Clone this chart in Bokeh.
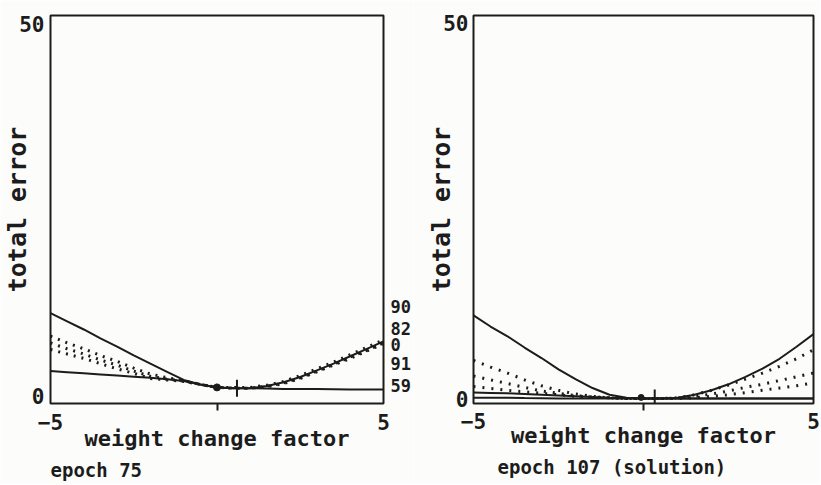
import math
from bokeh.plotting import figure
from bokeh.layouts import row
from bokeh.models import FixedTicker, LinearAxis, Title
from bokeh.embed import file_html
from bokeh.resources import INLINE

FONT = "DejaVu Sans Mono"
INK = "#1c1c1c"
PAPER = "#fcfcfa"

# ---- data -------------------------------------------------------------
weight_change = [-5, -4.5, -4, -3.5, -3, -2.5, -2, -1.5, -1, -0.5, 0,
                 0.5, 1, 1.5, 2, 2.5, 3, 3.5, 4, 4.5, 5]
x_tick_values = [-5, 5]
y_tick_values = [0, 50]

# epoch 75
e75_steep = [11.1, 10.0, 8.9, 7.7, 6.6, 5.4, 4.3, 3.2, 2.1, 1.5, 1.1,
             1.0, 1.0, 1.3, 1.8, 2.5, 3.4, 4.3, 5.3, 6.3, 7.3]
e75_low = [3.3, 3.15, 3.0, 2.85, 2.7, 2.55, 2.4, 2.2, 1.95, 1.5, 1.1,
           1.0, 1.0, 0.95, 0.9, 0.9, 0.9, 0.85, 0.8, 0.8, 0.8]
e75_dot_hi = [8.0, 7.1, 6.3, 5.4, 4.6, 3.7, 2.9, 2.4, 2.0, 1.5, 1.1,
              1.1, 1.1, 1.4, 1.9, 2.7, 3.6, 4.5, 5.5, 6.5, 7.5]
e75_dot_mid = [7.1, 6.3, 5.6, 4.8, 4.1, 3.3, 2.6, 2.2, 1.95, 1.5, 1.1,
               1.0, 1.0, 1.25, 1.7, 2.4, 3.3, 4.2, 5.2, 6.1, 7.1]
e75_dot_lo = [6.2, 5.6, 5.0, 4.3, 3.6, 3.0, 2.3, 2.1, 1.9, 1.5, 1.1,
              1.0, 1.0, 1.2, 1.6, 2.3, 3.2, 4.1, 5.0, 6.0, 7.0]
e75_end_labels = ["90", "82", "0", "91", "59"]
e75_end_label_y = [12.0, 9.1, 6.9, 4.3, 1.3]
e75_dot_x, e75_dot_y = [0.0], [1.1]
e75_mark_x, e75_mark_y = [0.6], [1.0]

# epoch 107 (solution)
e107_steep = [11.1, 9.6, 8.3, 6.8, 5.4, 3.9, 2.6, 1.4, 0.5, 0.1, 0.0,
              0.0, 0.1, 0.5, 1.1, 1.9, 2.9, 4.0, 5.3, 6.9, 8.6]
e107_low_a = [0.8, 0.75, 0.7, 0.6, 0.5, 0.4, 0.3, 0.2, 0.1, 0.05, 0.0,
              0.0, 0.0, 0.0, 0.0, 0.0, 0.0, 0.0, 0.0, 0.0, 0.0]
e107_low_b = [0.1, 0.1, 0.1, 0.07, 0.05, 0.02, 0.0, 0.0, 0.0, 0.0, 0.0,
              0.0, 0.0, 0.0, 0.0, 0.0, 0.0, 0.0, 0.0, 0.0, 0.0]
e107_dot_a = [5.1, 4.2, 3.4, 2.5, 1.7, 1.1, 0.6, 0.3, 0.1, 0.0, 0.0,
              0.0, 0.1, 0.5, 1.1, 1.8, 2.6, 3.4, 4.3, 5.3, 6.5]
e107_dot_b = [3.0, 2.5, 2.0, 1.5, 1.0, 0.7, 0.4, 0.2, 0.1, 0.0, 0.0,
              0.0, 0.05, 0.3, 0.6, 1.0, 1.5, 1.9, 2.4, 2.9, 3.4]
e107_dot_c = [1.6, 1.35, 1.1, 0.9, 0.7, 0.5, 0.3, 0.2, 0.1, 0.0, 0.0,
              0.0, 0.0, 0.1, 0.3, 0.5, 0.8, 1.1, 1.4, 1.7, 2.1]
e107_dot_x, e107_dot_y = [-0.07], [0.15]
e107_mark_x, e107_mark_y = [0.33], [0.0]


def make_panel(width, height, y_range, borders, caption, caption_offset,
               caption_standoff, ylabel_standoff, ytick_standoff,
               xtick_standoff, xlabel_standoff):
    left, right, top, bottom = borders
    p = figure(width=width, height=height, x_range=(-5, 5), y_range=y_range,
               output_backend="svg", toolbar_location=None,
               min_border_left=left, min_border_right=right,
               min_border_top=top, min_border_bottom=bottom)
    p.background_fill_color = PAPER
    p.border_fill_color = PAPER
    p.outline_line_color = INK
    p.outline_line_width = 2
    p.grid.visible = False

    xa = p.xaxis[0]
    xa.ticker = FixedTicker(ticks=x_tick_values, minor_ticks=[0])
    xa.axis_line_color = None
    xa.major_tick_line_color = None
    xa.major_tick_out = 0
    xa.major_tick_in = 0
    xa.minor_tick_line_color = INK
    xa.minor_tick_line_width = 2
    xa.minor_tick_out = 7
    xa.minor_tick_in = 0
    xa.major_label_standoff = xtick_standoff
    xa.axis_label = "weight change factor"
    xa.axis_label_standoff = xlabel_standoff

    ya = p.yaxis[0]
    ya.ticker = FixedTicker(ticks=y_tick_values)
    ya.axis_line_color = None
    ya.major_tick_line_color = None
    ya.minor_tick_line_color = None
    ya.major_tick_out = 0
    ya.major_tick_in = 0
    ya.major_label_standoff = ytick_standoff
    ya.axis_label = "total error"
    ya.axis_label_standoff = ylabel_standoff

    for ax in (xa, ya):
        ax.major_label_text_font = FONT
        ax.major_label_text_font_style = "bold"
        ax.major_label_text_font_size = "21px"
        ax.major_label_text_color = INK
        ax.axis_label_text_font = FONT
        ax.axis_label_text_font_style = "bold"
        ax.axis_label_text_color = INK
    xa.axis_label_text_font_size = "22px"
    ya.axis_label_text_font_size = "25px"

    t = Title(text=caption, align="left", offset=caption_offset,
              text_font=FONT, text_font_style="bold", text_font_size="19px",
              text_color=INK, standoff=caption_standoff)
    p.add_layout(t, "below")
    return p


# ---- left panel: epoch 75 ------------------------------------------------
p1 = make_panel(413, 484, (-1.07, 51.2), (44, 28, 11, 81), "epoch 75",
                0, 6, -16, 6, 3, -7)
p1.line(weight_change, e75_low, line_color=INK, line_width=2)
p1.line(weight_change, e75_steep, line_color=INK, line_width=2)
for series in (e75_dot_hi, e75_dot_mid, e75_dot_lo):
    p1.line(weight_change, series, line_color=INK, line_width=3,
            line_dash="2 6")
p1.scatter(e75_dot_x, e75_dot_y, marker="circle", size=7, color=INK)
p1.scatter(e75_mark_x, e75_mark_y, marker="dash", angle=math.pi / 2,
           size=17, line_color=INK, line_width=2)

end_axis = LinearAxis(
    ticker=FixedTicker(ticks=e75_end_label_y),
    major_label_overrides={yy: txt for yy, txt in zip(e75_end_label_y, e75_end_labels)},
    axis_line_color=None, major_tick_line_color=None, minor_tick_line_color=None,
    major_tick_out=0, major_tick_in=0, major_label_standoff=7,
    major_label_text_font=FONT, major_label_text_font_style="bold",
    major_label_text_font_size="17px", major_label_text_color=INK)
p1.add_layout(end_axis, "right")

# ---- right panel: epoch 107 (solution) ------------------------------------
p2 = make_panel(407, 484, (-0.66, 51.06), (60, 7, 15, 77),
                "epoch 107 (solution)", 24, 7, -16, 5, 2, -9)
p2.line(weight_change, e107_low_b, line_color=INK, line_width=2)
p2.line(weight_change, e107_low_a, line_color=INK, line_width=2)
p2.line(weight_change, e107_steep, line_color=INK, line_width=2)
for series in (e107_dot_a, e107_dot_b, e107_dot_c):
    p2.line(weight_change, series, line_color=INK, line_width=3,
            line_dash="2 7")
p2.scatter(e107_dot_x, e107_dot_y, marker="circle", size=6, color=INK)
p2.scatter(e107_mark_x, e107_mark_y, marker="dash", angle=math.pi / 2,
           size=18, line_color=INK, line_width=2)

layout = row(p1, p2, spacing=0)
open("out.html", "w").write(file_html(layout, INLINE))
